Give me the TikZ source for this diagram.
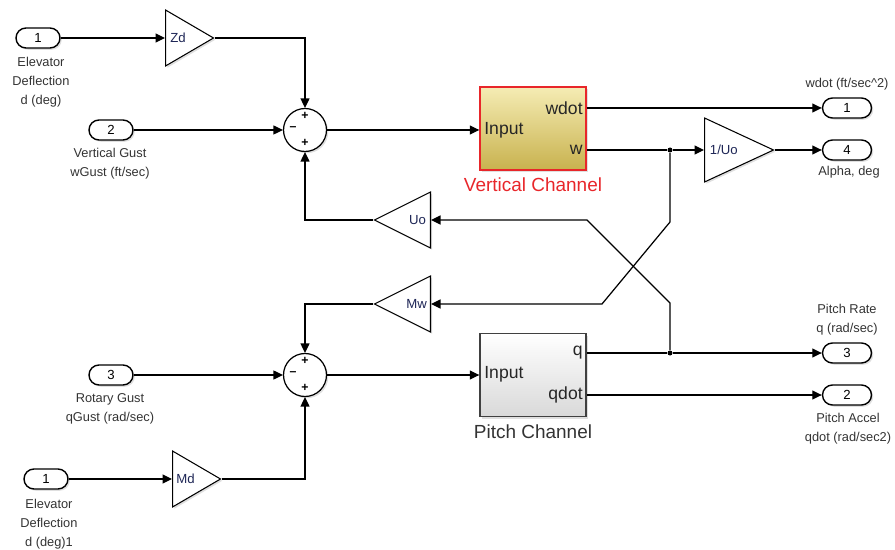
\documentclass[tikz,border=0pt]{standalone}
\usepackage{fontspec}
\setmainfont{Liberation Sans}
\usetikzlibrary{arrows.meta,positioning,shapes.geometric,shadows}

\definecolor{gainText}{HTML}{1E2656}
\definecolor{labelGray}{HTML}{333333}
\definecolor{vcTop}{HTML}{F5ECB4}
\definecolor{vcBottom}{HTML}{C8B24E}
\definecolor{vcRed}{HTML}{E8262A}

\begin{document}
\begin{tikzpicture}[
			x=0.02cm, y=-0.02cm,
			% in- and outports
			portIn/.style={
				draw=black,
				line width=0.8pt,
				rounded corners=0.2cm,
				fill=white,
				minimum width=0.88cm,
				minimum height=0.4cm,
				inner sep=0pt,
				font=\fontsize{7.5}{9}\selectfont,
				drop shadow={opacity=0.25,shadow xshift=1pt,shadow yshift=-1pt}
			},
			portOut/.style={
				portIn,
				minimum width=0.98cm
			},
			portLabel/.style={
				align=center,
				text=labelGray,
				inner sep=0pt,
				font=\fontsize{7.3}{10.9}\selectfont
			},
			% gain blocks (minimum height runs along the axis)
			gainRight/.style={
				isosceles triangle,
				isosceles triangle stretches,
				draw=black,
				line width=0.6pt,
				fill=white,
				inner sep=0pt,
				minimum height=0.96cm,
				minimum width=1.12cm,
				text=gainText,
				font=\fontsize{7.5}{9}\selectfont,
				drop shadow={opacity=0.25,shadow xshift=1pt,shadow yshift=-1pt}
			},
			gainLeft/.style={
				gainRight,
				shape border rotate=180,
				minimum height=1.12cm,
				minimum width=1.12cm
			},
			% sum blocks
			sumBlock/.style={
				circle,
				draw=black,
				line width=0.7pt,
				fill=white,
				minimum size=0.86cm,
				inner sep=0pt,
				drop shadow={opacity=0.25,shadow xshift=1pt,shadow yshift=-1pt}
			},
			sign/.style={
				inner sep=0pt,
				font=\fontsize{7}{8}\selectfont\bfseries
			},
			% subsystems
			vertBox/.style={
				draw=vcRed,
				line width=0.8pt,
				top color=vcTop,
				bottom color=vcBottom,
				minimum width=2.12cm,
				minimum height=1.66cm,
				inner sep=0pt,
				drop shadow={opacity=0.25,shadow xshift=1.2pt,shadow yshift=-1.2pt}
			},
			pitchBox/.style={
				vertBox,
				draw=black!75,
				top color=white,
				bottom color=black!15
			},
			portText/.style={
				inner sep=0pt,
				text=black!85,
				font=\fontsize{10}{12}\selectfont
			},
			blockName/.style={
				inner sep=0pt,
				font=\fontsize{10.8}{13}\selectfont
			},
			signal/.style={
				-{Triangle[length=1.9mm,width=1.8mm]},
				line width=0.7pt
			},
			wire/.style={
				line width=0.7pt
			},
			junction/.style={
				circle,
				fill=black,
				minimum size=0.1cm,
				inner sep=0pt
			}
			]
			
			\useasboundingbox (0,0) rectangle (895,550);
			
			% Inports
			\node[portIn] (in1) at (38,38) {1};
			\node[portLabel, anchor=north] (in1lbl) at (41,57)
			{Elevator\\Deflection\\d (deg)};
			
			\node[portIn] (in2) at (111,130) {2};
			\node[portLabel, anchor=north] (in2lbl) at (110,148)
			{Vertical Gust\\wGust (ft/sec)};
			
			\node[portIn] (in3) at (111,375) {3};
			\node[portLabel, anchor=north] (in3lbl) at (110,393)
			{Rotary Gust\\qGust (rad/sec)};
			
			\node[portIn] (in1b) at (46,479) {1};
			\node[portLabel, anchor=north] (in1blbl) at (49,499)
			{Elevator\\Deflection\\d (deg)1};
			
			% Gains
			\node[gainRight, anchor=lower side] (zd) at (165,38) {Zd\hspace*{0.2cm}};
			\node[gainRight, anchor=lower side] (md) at (172,479) {Md\hspace*{0.2cm}};
			\node[gainLeft, anchor=lower side] (uo) at (431,220) {\hspace*{0.3cm}Uo};
			\node[gainLeft, anchor=lower side] (mw) at (431,304) {\hspace*{0.3cm}Mw};
			\node[gainRight, anchor=lower side, minimum height=1.38cm,
			minimum width=1.28cm] (uoinv) at (704,150) {1/Uo\hspace*{0.25cm}};
			
			% Sums
			\node[sumBlock] (sum1) at (305,130) {};
			\node[sign] (s1a) at (305,116) {+};
			\node[sign] (s1b) at (293,129) {\textendash};
			\node[sign] (s1c) at (305,143) {+};
			
			\node[sumBlock] (sum2) at (305,375) {};
			\node[sign] (s2a) at (305,361) {+};
			\node[sign] (s2b) at (293,374) {\textendash};
			\node[sign] (s2c) at (305,388) {+};
			
			% Subsystems
			\node[vertBox] (vc) at (533,128.5) {};
			\node[portText, anchor=west] (vcin) at (484,130) {Input};
			\node[portText, anchor=east] (vcwdot) at (583,108) {wdot};
			\node[portText, anchor=east] (vcw) at (583,150) {w};
			\node[blockName, text=vcRed] (vclbl) at (533,185) {Vertical Channel};
			
			\node[pitchBox] (pc) at (533,375) {};
			\node[portText, anchor=west] (pcin) at (484,374) {Input};
			\node[portText, anchor=east] (pcq) at (583,353) {q};
			\node[portText, anchor=east] (pcqdot) at (583,395) {qdot};
			\node[blockName, text=labelGray] (pclbl) at (533,432) {Pitch Channel};
			
			% Outports
			\node[portOut] (out1) at (847,108) {1};
			\node[portLabel] (out1lbl) at (847,84) {wdot (ft/sec\^{}2)};
			
			\node[portOut] (out4) at (847,150) {4};
			\node[portLabel] (out4lbl) at (849,172) {Alpha, deg};
			
			\node[portOut] (out3) at (847,353) {3};
			\node[portLabel, anchor=south] (out3lbl) at (847,336)
			{Pitch Rate\\q (rad/sec)};
			
			\node[portOut] (out2) at (847,395) {2};
			\node[portLabel, anchor=north] (out2lbl) at (848,413)
			{Pitch Accel\\qdot (rad/sec2)};
			
			% Junctions and bends of the cross-coupling lines
			\node[junction] (j1) at (670,150) {};
			\node[junction] (j2) at (670,353) {};
			\coordinate (wDown) at (670,222);
			\coordinate (wCross) at (602,304);
			\coordinate (qUp) at (670,303);
			\coordinate (qCross) at (587,220);
			
			% Vertical channel signals
			\draw[signal] (in1) -- (zd.lower side);
			\draw[signal] (zd.apex) -| (sum1.north);
			\draw[signal] (in2) -- (sum1.west);
			\draw[signal] (uo.apex) -| (sum1.south);
			\draw[signal] (sum1.east) -- (sum1.east -| vc.west);
			
			\draw[signal] (vc.east |- vcwdot) -- (out1.west);
			\draw[wire] (vc.east |- vcw) -- (j1);
			\draw[signal] (j1) -- (uoinv.lower side);
			\draw[signal] (uoinv.apex) -- (out4.west);
			
			% Pitch channel signals
			\draw[signal] (mw.apex) -| (sum2.north);
			\draw[signal] (in3) -- (sum2.west);
			\draw[signal] (in1b) -- (md.lower side);
			\draw[signal] (md.apex) -| (sum2.south);
			\draw[signal] (sum2.east) -- (sum2.east -| pc.west);
			
			\draw[wire] (pc.east |- pcq) -- (j2);
			\draw[signal] (j2) -- (out3.west);
			\draw[signal] (pc.east |- pcqdot) -- (out2.west);
			
			% Cross coupling
			\draw[signal] (j1) -- (wDown) -- (wCross) -- (mw.lower side);
			\draw[signal] (j2) -- (qUp) -- (qCross) -- (uo.lower side);
			
		\end{tikzpicture}
\end{document}
